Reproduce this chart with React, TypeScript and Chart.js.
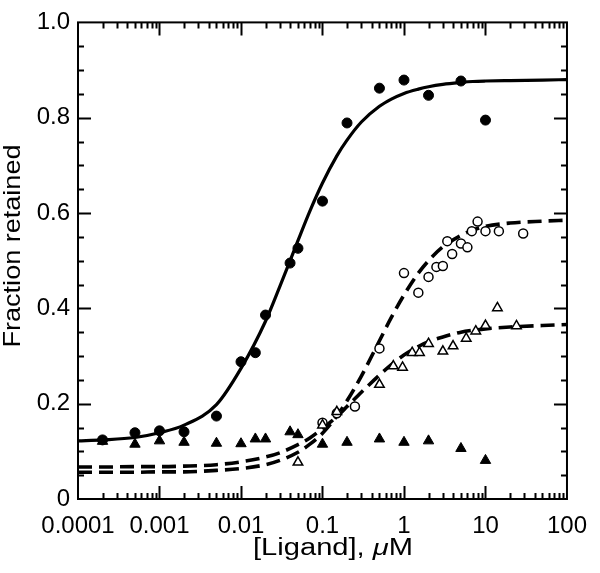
import React, { useEffect, useRef } from "react";
import { Chart, registerables } from "chart.js";

Chart.register(...registerables);

// ---- tick labels ----
const xTickValues = [0.0001, 0.001, 0.01, 0.1, 1, 10, 100];
const xTickLabels = ["0.0001", "0.001", "0.01", "0.1", "1", "10", "100"];
const yTickValues = [0, 0.2, 0.4, 0.6, 0.8, 1.0];
const yTickLabels = ["0", "0.2", "0.4", "0.6", "0.8", "1.0"];

// ---- measured points ----
const filledCircleX = [0.0002, 0.0005, 0.001, 0.002, 0.005, 0.01, 0.015, 0.02, 0.04, 0.05, 0.1, 0.2, 0.5, 1, 2, 5, 10];
const filledCircleY = [0.124, 0.139, 0.143, 0.141, 0.174, 0.288, 0.307, 0.386, 0.495, 0.526, 0.625, 0.789, 0.862, 0.879, 0.847, 0.877, 0.795];

const openCircleX = [0.1, 0.15, 0.25, 0.5, 1, 1.5, 2, 2.5, 3, 3.4, 3.9, 5, 6, 6.8, 8, 10, 14.6, 29];
const openCircleY = [0.16, 0.18, 0.194, 0.316, 0.474, 0.433, 0.466, 0.487, 0.489, 0.541, 0.514, 0.536, 0.528, 0.562, 0.582, 0.562, 0.562, 0.557];

const openTriX = [0.05, 0.1, 0.15, 0.5, 0.74, 0.96, 1.26, 1.55, 2, 3, 4, 5.8, 7.6, 10, 14, 24];
const openTriY = [0.077, 0.155, 0.183, 0.240, 0.279, 0.276, 0.307, 0.307, 0.326, 0.310, 0.321, 0.337, 0.352, 0.364, 0.401, 0.363];

const filledTriX = [0.0002, 0.0005, 0.001, 0.002, 0.005, 0.01, 0.015, 0.02, 0.04, 0.05, 0.1, 0.2, 0.5, 1, 2, 5, 10];
const filledTriY = [0.121, 0.115, 0.122, 0.119, 0.117, 0.116, 0.126, 0.126, 0.141, 0.135, 0.115, 0.119, 0.126, 0.119, 0.122, 0.106, 0.081];

// ---- fitted curves ----
const curveX = [0.0001, 0.0002, 0.0005, 0.001, 0.002, 0.005, 0.01, 0.02, 0.03, 0.05, 0.07, 0.1, 0.15, 0.2, 0.3, 0.5, 0.7, 1, 1.5, 2, 3, 5, 7, 10, 20, 50, 100];
const curveSolidY = [0.122, 0.124, 0.129, 0.139, 0.155, 0.198, 0.274, 0.373, 0.446, 0.542, 0.604, 0.663, 0.720, 0.753, 0.791, 0.824, 0.839, 0.851, 0.860, 0.865, 0.870, 0.874, 0.876, 0.877, 0.878, 0.879, 0.880];
const curveOpenCircleY = [0.056, 0.056, 0.056, 0.057, 0.057, 0.060, 0.064, 0.072, 0.081, 0.098, 0.115, 0.138, 0.174, 0.206, 0.258, 0.332, 0.381, 0.428, 0.474, 0.500, 0.529, 0.553, 0.564, 0.572, 0.579, 0.583, 0.585];
const curveOpenTriY = [0.067, 0.067, 0.068, 0.068, 0.069, 0.072, 0.078, 0.088, 0.097, 0.114, 0.128, 0.148, 0.173, 0.194, 0.224, 0.260, 0.282, 0.302, 0.320, 0.330, 0.340, 0.350, 0.354, 0.357, 0.361, 0.364, 0.366];

const xTitleParts = ["[Ligand], ", "\u03bc", "M"];
const yTitle = "Fraction retained";

const FONT = "'Liberation Sans', Arial, Helvetica, sans-serif";

const pts = (xs: number[], ys: number[]) => xs.map((x, i) => ({ x, y: ys[i] }));

const framePlugin = {
  id: "frameTicks",
  afterDatasetsDraw(chart: any) {
    const { ctx, chartArea, scales } = chart;
    const { left, right, top, bottom } = chartArea;
    const xs = scales.x;
    const ys = scales.y;
    ctx.save();
    ctx.strokeStyle = "#000";
    ctx.lineWidth = 2;
    ctx.strokeRect(left, top, right - left, bottom - top);
    ctx.beginPath();
    const major = 13;
    const minor = 6;
    const mults = [1, 2, 3, 4, 5, 6, 7, 8, 9];
    xTickValues.forEach((dec) => {
      mults.forEach((m) => {
        const v = dec * m;
        if (v > 100.0001) return;
        const px = Math.round(xs.getPixelForValue(v)) + 0.5;
        if (px <= left + 1 || px >= right - 1) return;
        const len = m === 1 ? major : minor;
        ctx.moveTo(px, bottom);
        ctx.lineTo(px, bottom - len);
        ctx.moveTo(px, top);
        ctx.lineTo(px, top + len);
      });
    });
    for (let i = 1; i < 20; i++) {
      const v = i * 0.05;
      const py = Math.round(ys.getPixelForValue(v)) + 0.5;
      const len = i % 4 === 0 ? major : minor;
      ctx.moveTo(left, py);
      ctx.lineTo(left + len, py);
      ctx.moveTo(right, py);
      ctx.lineTo(right - len, py);
    }
    ctx.stroke();
    ctx.restore();
  },
  afterDraw(chart: any) {
    const { ctx, chartArea } = chart;
    ctx.save();
    ctx.fillStyle = "#000";
    // x title with italic mu
    const size = 23;
    const fonts = [`${size}px ${FONT}`, `italic ${size}px ${FONT}`, `${size}px ${FONT}`];
    let total = 0;
    const widths = xTitleParts.map((t, i) => {
      ctx.font = fonts[i];
      const w = ctx.measureText(t).width;
      total += w;
      return w;
    });
    const targetW = 160;
    const sx = targetW / total;
    const cx = 333;
    ctx.translate(cx - targetW / 2, 555);
    ctx.scale(sx, 1);
    ctx.textBaseline = "alphabetic";
    ctx.textAlign = "left";
    let xpos = 0;
    xTitleParts.forEach((t, i) => {
      ctx.font = fonts[i];
      ctx.fillText(t, xpos, 0);
      xpos += widths[i];
    });
    ctx.restore();

    // y title
    ctx.save();
    ctx.fillStyle = "#000";
    ctx.font = `${size + 1}px ${FONT}`;
    const yw = ctx.measureText(yTitle).width;
    const targetYW = 203;
    ctx.translate(20, 246);
    ctx.rotate(-Math.PI / 2);
    ctx.scale(targetYW / yw, 1);
    ctx.textAlign = "center";
    ctx.textBaseline = "alphabetic";
    ctx.fillText(yTitle, 0, 0);
    ctx.restore();
  },
};

export default function App() {
  const ref = useRef<HTMLCanvasElement>(null);
  useEffect(() => {
    const chart = new Chart(ref.current as HTMLCanvasElement, {
      type: "scatter",
      data: {
        datasets: [
          {
            label: "solid fit",
            data: pts(curveX, curveSolidY),
            showLine: true,
            pointRadius: 0,
            borderColor: "#000",
            borderWidth: 3.2,
            cubicInterpolationMode: "monotone",
            order: 5,
          } as any,
          {
            label: "open circle fit",
            data: pts(curveX, curveOpenCircleY),
            showLine: true,
            pointRadius: 0,
            borderColor: "#000",
            borderWidth: 3.6,
            borderDash: [14, 7],
            cubicInterpolationMode: "monotone",
            order: 5,
          } as any,
          {
            label: "open triangle fit",
            data: pts(curveX, curveOpenTriY),
            showLine: true,
            pointRadius: 0,
            borderColor: "#000",
            borderWidth: 3.6,
            borderDash: [14, 7],
            cubicInterpolationMode: "monotone",
            order: 5,
          } as any,
          {
            label: "filled triangles",
            data: pts(filledTriX, filledTriY),
            showLine: false,
            pointStyle: "triangle",
            pointRadius: 6,
            backgroundColor: "#000",
            borderColor: "#000",
            borderWidth: 1,
            order: 1,
          } as any,
          {
            label: "open triangles",
            data: pts(openTriX, openTriY),
            showLine: false,
            pointStyle: "triangle",
            pointRadius: 5.5,
            backgroundColor: "#fff",
            borderColor: "#000",
            borderWidth: 1.5,
            order: 1,
          } as any,
          {
            label: "open circles",
            data: pts(openCircleX, openCircleY),
            showLine: false,
            pointStyle: "circle",
            pointRadius: 4.5,
            backgroundColor: "#fff",
            borderColor: "#000",
            borderWidth: 1.5,
            order: 1,
          } as any,
          {
            label: "filled circles",
            data: pts(filledCircleX, filledCircleY),
            showLine: false,
            pointStyle: "circle",
            pointRadius: 5,
            backgroundColor: "#000",
            borderColor: "#000",
            borderWidth: 1,
            order: 1,
          } as any,
        ],
      },
      options: {
        responsive: false,
        animation: false,
        devicePixelRatio: 1,
        layout: { padding: { top: 10, right: 25, left: 0, bottom: 0 } },
        plugins: { legend: { display: false }, tooltip: { enabled: false } },
        scales: {
          x: {
            type: "logarithmic",
            min: 0.0001,
            max: 100,
            grid: { display: false, drawTicks: false },
            border: { display: false },
            afterBuildTicks: (scale: any) => {
              scale.ticks = xTickValues.map((v) => ({ value: v }));
            },
            afterFit: (scale: any) => {
              scale.height = 74;
            },
            ticks: {
              autoSkip: false,
              maxRotation: 0,
              padding: 13,
              color: "#000",
              font: { family: FONT, size: 24 },
              callback: (_v: any, i: number) => xTickLabels[i],
            },
          },
          y: {
            type: "linear",
            min: 0,
            max: 1,
            grid: { display: false, drawTicks: false },
            border: { display: false },
            afterBuildTicks: (scale: any) => {
              scale.ticks = yTickValues.map((v) => ({ value: v }));
            },
            afterFit: (scale: any) => {
              scale.width = 78;
            },
            ticks: {
              padding: 8,
              color: "#000",
              font: { family: FONT, size: 24 },
              callback: (_v: any, i: number) => yTickLabels[i],
            },
          },
        },
      } as any,
      plugins: [framePlugin],
    });
    return () => chart.destroy();
  }, []);
  return (
    <div style={{ position: "absolute", left: 0, top: 0, width: 600, height: 573, background: "#fff" }}>
      <canvas ref={ref} width={600} height={573} style={{ display: "block", width: 600, height: 573 }} />
    </div>
  );
}
